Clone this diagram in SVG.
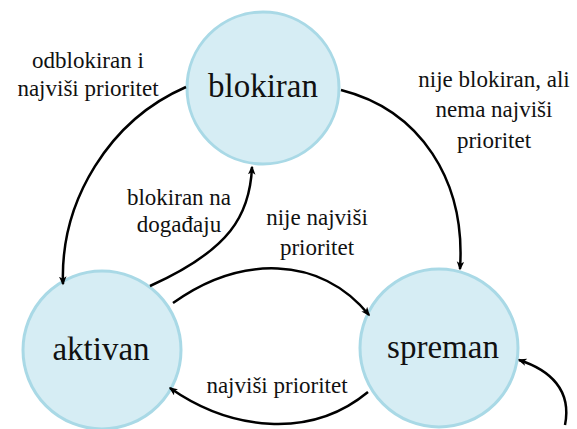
<svg xmlns="http://www.w3.org/2000/svg" width="577" height="429" viewBox="0 0 577 429">
<style>
.node{fill:#d6edf4;stroke:#a9d9e6;stroke-width:3}
.nt{font-family:"Liberation Serif",serif;font-size:33px;fill:#111;text-anchor:middle}
.lb{font-family:"Liberation Serif",serif;font-size:23px;fill:#111;text-anchor:middle}
.c{fill:none;stroke:#000;stroke-width:2.5;marker-end:url(#ah)}
</style>
<defs>
<marker id="ah" viewBox="0 0 12 10" refX="10" refY="5" markerWidth="9" markerHeight="8" orient="auto" markerUnits="userSpaceOnUse">
<path d="M0,0 L12,5 L0,10 L3,5 z" fill="#000"/>
</marker>
</defs>
<rect width="577" height="429" fill="#fff"/>
<g id="blokiran"><circle class="node" cx="263" cy="88" r="76"/><text class="nt" x="263" y="97">blokiran</text></g>
<g id="aktivan"><circle class="node" cx="102" cy="350" r="79"/><text class="nt" x="101" y="360">aktivan</text></g>
<g id="spreman"><circle class="node" cx="439" cy="348" r="79"/><text class="nt" x="443" y="358">spreman</text></g>
<g id="connectors">
<path class="c" d="M186,87 C110,120 60,200 63,284"/>
<path class="c" d="M341,90 C420,110 466,180 460,269"/>
<path class="c" d="M150,286 C230,250 250,215 252,167"/>
<path class="c" d="M173,303 C240,255 320,255 369,315"/>
<path class="c" d="M368,392 C310,440 230,430 170,388"/>
<path class="c" d="M565,425 C572,390 550,370 519,360"/>
</g>
<g id="labels">
<text class="lb" x="88" y="68">odblokiran i</text>
<text class="lb" x="88" y="96">najviši prioritet</text>
<text class="lb" x="494" y="87">nije blokiran, ali</text>
<text class="lb" x="494" y="117">nema najviši</text>
<text class="lb" x="494" y="148">prioritet</text>
<text class="lb" x="179" y="205">blokiran na</text>
<text class="lb" x="179" y="232">događaju</text>
<text class="lb" x="317" y="225">nije najviši</text>
<text class="lb" x="317" y="255">prioritet</text>
<text class="lb" x="277" y="393">najviši prioritet</text>
</g>
</svg>
